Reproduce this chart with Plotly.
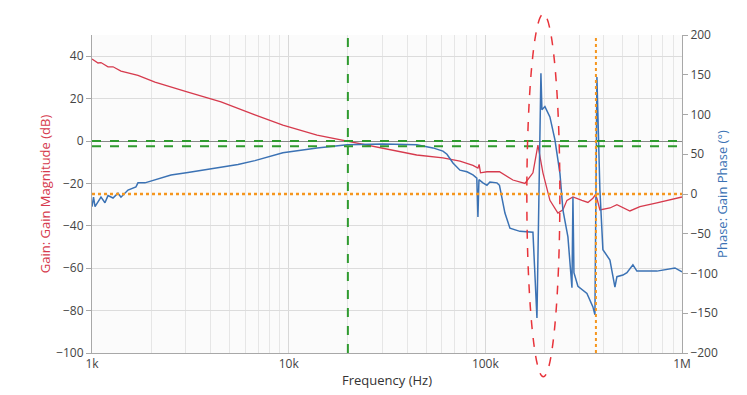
import plotly.graph_objects as go
from plotly.subplots import make_subplots

# ---- data ----
gain_freq = [1000, 1073, 1111, 1164, 1206, 1279, 1404, 1713, 2090, 3075, 4528, 6735,
             9343, 13945, 19850, 30163, 44773, 60870, 74300, 86500, 91700, 93000,
             94500, 101900, 118000, 138100, 159000, 174600, 185100, 196300, 213000,
             233900, 248000, 260000, 278900, 309800, 332400, 352400, 362000, 369300,
             382400, 430000, 466800, 543500, 611000, 745400, 1000000]
gain_db = [38.7, 36.8, 37.0, 35.8, 35.0, 35.0, 33.0, 31.0, 27.8, 23.0, 18.4, 12.3,
           7.5, 2.8, 0.0, -3.3, -6.6, -8.0, -9.5, -11.5, -12.8, -11.0,
           -15.0, -14.5, -14.5, -18.4, -20.0, -15.0, -2.0, -15.0, -28.0,
           -34.0, -32.5, -28.0, -26.4, -28.0, -29.0, -27.0, -25.5, -27.0,
           -32.5, -31.6, -30.0, -33.0, -31.0, -29.2, -26.4]

phase_freq = [1000, 1018, 1036, 1073, 1111, 1164, 1206, 1279, 1355, 1404, 1524, 1673,
              1713, 1859, 2090, 2521, 3075, 4026, 5525, 6735, 9343, 13945, 19850,
              30163, 44773, 54150, 60870, 63800, 68450, 74300, 80640, 86500, 90500,
              91700, 92800, 97230, 101900, 105500, 114600, 118000, 125800, 133400,
              149900, 174600, 183000, 191700, 194000, 200900, 213000, 225900, 239500,
              248000, 263000, 275700, 278900, 282200, 295700, 328600, 352400, 360800,
              369300, 382400, 396100, 430000, 456000, 466800, 500800, 524800, 562900,
              589800, 745400, 920300, 1000000]
phase_deg = [-16, -4, -16, -10, -4, -11, -2, -5, 1, -4, 5, 9,
             14, 14, 18, 24, 27, 32, 37, 42, 52, 58, 62,
             63, 62, 58, 54, 50, 39, 30, 28, 24, 20,
             -29, 18, 14, 11, 15, 14, 11, -24, -43,
             -47, -48, -156, 152, 106, 110, 97, 68, 26,
             -20, -54, -118, -4, -99, -116, -125, -142, -152,
             147, 5, -70, -83, -117, -104, -102, -99, -89,
             -97, -97, -93, -98]

x_tick_vals = [1000, 10000, 100000, 1000000]
x_tick_text = ["1k", "10k", "100k", "1M"]

crossover_freq = 20000      # green vertical
phase_margin_deg = 60       # green horizontal (phase axis)
gain_zero_db = 0            # green horizontal (gain axis)
phase_cross_freq = 365000   # orange vertical
phase_zero_deg = 0          # orange horizontal (phase axis)

RED = "#d63a4d"
BLUE = "#3b72b4"
GREEN = "#2f9a2f"
ORANGE = "#f5961e"
FONT = "Open Sans"

fig = make_subplots(specs=[[{"secondary_y": True}]])
fig.add_trace(go.Scatter(x=gain_freq, y=gain_db, mode="lines",
                         line=dict(color=RED, width=1.3), showlegend=False),
              secondary_y=False)
fig.add_trace(go.Scatter(x=phase_freq, y=phase_deg, mode="lines",
                         line=dict(color=BLUE, width=1.5), showlegend=False),
              secondary_y=True)

# reference lines
fig.add_shape(type="line", xref="paper", x0=0, x1=1, yref="y", y0=gain_zero_db, y1=gain_zero_db,
              line=dict(color=GREEN, width=2, dash="dash"))
fig.add_shape(type="line", xref="paper", x0=0, x1=1, yref="y2", y0=phase_margin_deg, y1=phase_margin_deg,
              line=dict(color=GREEN, width=2, dash="dash"))
fig.add_shape(type="line", xref="x", x0=crossover_freq, x1=crossover_freq, yref="paper", y0=0, y1=1,
              line=dict(color=GREEN, width=2, dash="dash"))
fig.add_shape(type="line", xref="paper", x0=0, x1=1, yref="y2", y0=phase_zero_deg, y1=phase_zero_deg,
              line=dict(color=ORANGE, width=2.5, dash="dot"))
fig.add_shape(type="line", xref="x", x0=phase_cross_freq, x1=phase_cross_freq, yref="paper", y0=0, y1=1,
              line=dict(color=ORANGE, width=2, dash="dot"))
# highlight ellipse
fig.add_shape(type="circle", xref="paper", yref="paper", x0=0.737, x1=0.793, y0=-0.075, y1=1.066,
              line=dict(color="#e8333a", width=1.5, dash="dash"), fillcolor="rgba(0,0,0,0)")

fig.update_xaxes(type="log", range=[3, 6], domain=[0, 1], tickvals=x_tick_vals, ticktext=x_tick_text,
                 showgrid=True, gridcolor="#d8d8d8", gridwidth=1, automargin=False,
                 minor=dict(showgrid=True, gridcolor="#e6e6e6", tickmode="linear", dtick="D1", ticks=""),
                 showline=True, linecolor="#a8a8a8", linewidth=1, mirror=False,
                 ticks="", tickfont=dict(size=12, color="#444", family=FONT),
                 title=dict(text="Frequency (Hz)", font=dict(size=13, color="#333", family=FONT), standoff=4))
fig.update_yaxes(range=[-100, 50], dtick=20, tick0=0, secondary_y=False, automargin=False,
                 showgrid=True, gridcolor="#dcdcdc", zeroline=True, zerolinecolor="#888", zerolinewidth=1,
                 showline=True, linecolor="#a8a8a8", ticks="outside", ticklen=5, tickcolor="#a8a8a8",
                 tickfont=dict(size=12, color="#444", family=FONT),
                 title=dict(text="Gain: Gain Magnitude (dB)", font=dict(size=13, color=RED, family=FONT), standoff=2))
fig.update_yaxes(range=[-200, 200], dtick=50, secondary_y=True, showgrid=False, zeroline=False,
                 automargin=False,
                 showline=True, linecolor="#a8a8a8", ticks="outside", ticklen=5, tickcolor="#a8a8a8",
                 tickfont=dict(size=12, color="#444", family=FONT),
                 title=dict(text="Phase: Gain Phase (°)", font=dict(size=13, color=BLUE, family=FONT), standoff=0))

fig.update_layout(width=747, height=395, margin=dict(l=92, r=65, t=35, b=42, autoexpand=False),
                  paper_bgcolor="white", plot_bgcolor="#fbfbfb",
                  font=dict(family=FONT), showlegend=False)
fig.write_html("out.html", post_script="document.body.style.margin='0';",
               config={"displayModeBar": False})
